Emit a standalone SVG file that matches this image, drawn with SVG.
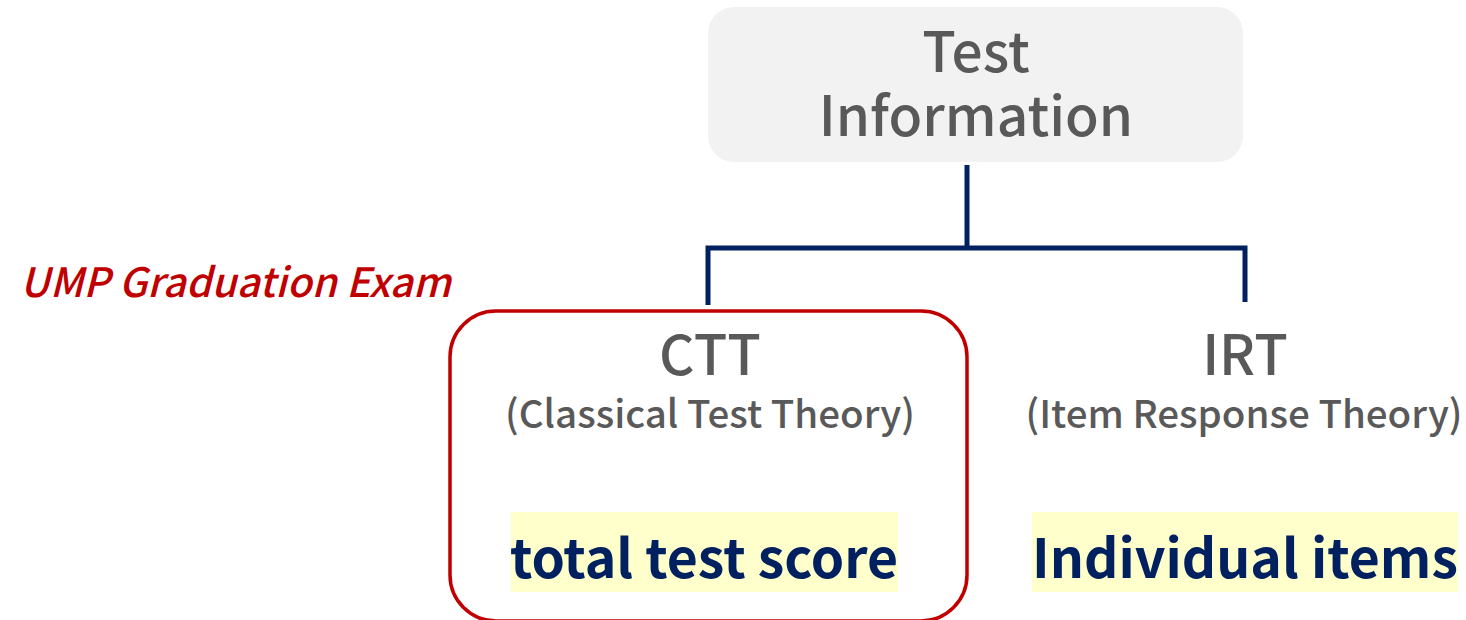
<svg xmlns="http://www.w3.org/2000/svg" width="1466" height="620" viewBox="0 0 1466 620">
  <style>
    text { font-family: "Noto Sans CJK SC", "Source Sans Pro", "Noto Sans", sans-serif; text-anchor: middle; }
    .title { fill: #595959; font-size: 55px; font-weight: 500; }
    .sub { fill: #595959; font-size: 38.5px; font-weight: 500; }
    .key { fill: #002060; font-size: 53.5px; font-weight: bold; }
    .mark { fill: #FFFFCC; }
    .wire { fill: none; stroke: #002060; stroke-width: 5; }
  </style>

  <g id="connectors">
    <path class="wire" d="M967 165 V248 M708 305 V248 H1245 V302"/>
  </g>

  <g id="root">
    <rect x="708" y="7" width="535" height="155" rx="26" fill="#F2F2F2"/>
    <text class="title" x="976" y="72">Test</text>
    <text class="title" x="976" y="136">Information</text>
  </g>

  <g id="ctt">
    <rect x="450" y="311" width="517" height="310" rx="46" fill="none" stroke="#C00000" stroke-width="3.5"/>
    <text class="title" x="710" y="375">CTT</text>
    <text class="sub" x="710" y="428">(Classical Test Theory)</text>
    <rect class="mark" x="511" y="512" width="387" height="80"/>
    <text class="key" x="704" y="578">total test score</text>
  </g>

  <g id="irt">
    <text class="title" x="1245" y="375">IRT</text>
    <text class="sub" x="1244" y="428">(Item Response Theory)</text>
    <rect class="mark" x="1032" y="512" width="426" height="80"/>
    <text class="key" x="1245" y="578">Individual items</text>
  </g>

  <g id="note">
    <text x="20" y="297" style="text-anchor:start; fill:#C00000; font-size:40.5px; font-weight:500; font-style:italic;">UMP Graduation Exam</text>
  </g>
</svg>
